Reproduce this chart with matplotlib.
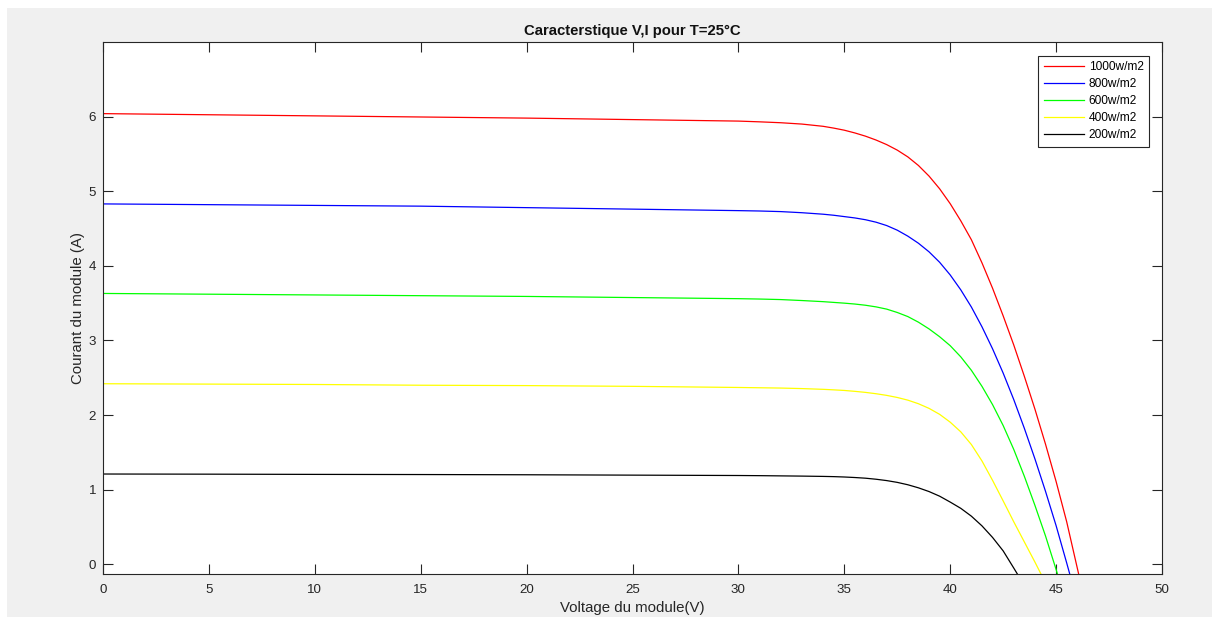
import matplotlib
matplotlib.use('Agg')
import matplotlib.pyplot as plt
from matplotlib.patches import Rectangle

plt.rcParams['font.family'] = ['Liberation Sans', 'DejaVu Sans']

# I(V) curves, one per irradiance
v_1000 = [0, 5, 10, 15, 20, 25, 30, 31, 32, 33, 34, 34.5, 35, 35.5, 36, 36.5, 37, 37.5, 38,
          38.5, 39, 39.5, 40, 40.5, 41, 41.5, 42, 42.5, 43, 43.5, 44, 44.5, 45, 45.5, 46, 46.3]
i_1000 = [6.04, 6.025, 6.01, 5.995, 5.98, 5.96, 5.94, 5.93, 5.918, 5.90, 5.87, 5.846, 5.818,
          5.781, 5.738, 5.686, 5.625, 5.551, 5.46, 5.345, 5.203, 5.033, 4.833, 4.603, 4.35,
          4.04, 3.70, 3.33, 2.94, 2.52, 2.08, 1.61, 1.11, 0.57, -0.05, -0.42]

v_800 = [0, 5, 10, 15, 20, 25, 30, 31, 32, 33, 34, 34.5, 35, 35.5, 36, 36.5, 37, 37.5, 38,
         38.5, 39, 39.5, 40, 40.5, 41, 41.5, 42, 42.5, 43, 43.5, 44, 44.5, 45, 45.5, 45.8]
i_800 = [4.83, 4.82, 4.81, 4.80, 4.78, 4.76, 4.74, 4.735, 4.727, 4.712, 4.692, 4.678, 4.66,
         4.642, 4.618, 4.585, 4.54, 4.478, 4.398, 4.303, 4.188, 4.048, 3.878, 3.678, 3.448,
         3.183, 2.888, 2.563, 2.208, 1.823, 1.413, 0.978, 0.518, 0.018, -0.29]

v_600 = [0, 5, 10, 15, 20, 25, 30, 31, 32, 33, 34, 34.5, 35, 35.5, 36, 36.5, 37, 37.5, 38,
         38.5, 39, 39.5, 40, 40.5, 41, 41.5, 42, 42.5, 43, 43.5, 44, 44.5, 45, 45.3]
i_600 = [3.63, 3.62, 3.61, 3.60, 3.59, 3.575, 3.56, 3.555, 3.548, 3.535, 3.52, 3.51, 3.50,
         3.488, 3.472, 3.45, 3.42, 3.375, 3.32, 3.245, 3.155, 3.05, 2.93, 2.78, 2.60, 2.385,
         2.14, 1.86, 1.54, 1.18, 0.79, 0.38, -0.07, -0.35]

v_400 = [0, 5, 10, 15, 20, 25, 30, 31, 32, 33, 34, 34.5, 35, 35.5, 36, 36.5, 37, 37.5, 38,
         38.5, 39, 39.5, 40, 40.5, 41, 41.5, 42, 42.5, 43, 43.5, 44, 44.5]
i_400 = [2.42, 2.415, 2.41, 2.40, 2.395, 2.385, 2.37, 2.366, 2.362, 2.355, 2.345, 2.338, 2.33,
         2.318, 2.304, 2.286, 2.264, 2.236, 2.20, 2.152, 2.09, 2.01, 1.905, 1.775, 1.605,
         1.385, 1.125, 0.85, 0.57, 0.30, 0.03, -0.25]

v_200 = [0, 5, 10, 15, 20, 25, 30, 31, 32, 33, 34, 34.5, 35, 35.5, 36, 36.5, 37, 37.5, 38,
         38.5, 39, 39.5, 40, 40.5, 41, 41.5, 42, 42.5, 43, 43.3]
i_200 = [1.21, 1.208, 1.205, 1.203, 1.20, 1.195, 1.19, 1.188, 1.185, 1.182, 1.178, 1.175,
         1.17, 1.163, 1.154, 1.14, 1.122, 1.098, 1.066, 1.025, 0.975, 0.913, 0.834, 0.75,
         0.645, 0.515, 0.36, 0.18, -0.05, -0.19]

labels = ['1000w/m2', '800w/m2', '600w/m2', '400w/m2', '200w/m2']
colors = ['#ff0000', '#0000ff', '#00ff00', '#ffff00', '#000000']

x_ticks = [0, 5, 10, 15, 20, 25, 30, 35, 40, 45, 50]
y_ticks = [0, 1, 2, 3, 4, 5, 6]

W, H = 1212, 617
fig = plt.figure(figsize=(W / 100, H / 100), dpi=100, facecolor='white')
# grey figure area with thin white border top/left
fig.patches.append(Rectangle((7 / W, 0), 1, (H - 8) / H, transform=fig.transFigure,
                             facecolor='#f0f0f0', edgecolor='none', zorder=-10))

ax = fig.add_axes([103 / W, 1 - 574 / H, (1162 - 103) / W, (574 - 42) / H])
ax.set_facecolor('white')

series = [(v_1000, i_1000), (v_800, i_800), (v_600, i_600), (v_400, i_400), (v_200, i_200)]
for (v, i), lab, col in zip(series, labels, colors):
    ax.plot(v, i, color=col, lw=0.9, label=lab)

ax.set_xlim(0, 50)
ax.set_ylim(-0.13, 7)
ax.set_xticks(x_ticks)
ax.set_yticks(y_ticks)

axc = '#262626'
for s in ax.spines.values():
    s.set_color(axc)
    s.set_linewidth(0.8)
ax.tick_params(direction='in', length=7.5, width=0.8, color=axc, labelcolor=axc,
               labelsize=9.6, top=True, right=True)
ax.tick_params(axis='x', pad=7)
ax.tick_params(axis='y', pad=5)

ax.set_xlabel('Voltage du module(V)', fontsize=10.8, color=axc, va='center')
ax.xaxis.set_label_coords(0.5, (574 - 608) / 532)
ax.set_ylabel('Courant du module (A)', fontsize=10.8, color=axc, va='center')
ax.yaxis.set_label_coords((78 - 103) / 1059, 0.5)

ax.set_title('Caracterstique V,I pour T=25°C', fontsize=10.7, fontweight='bold',
             color='#111111', y=(574 - 31) / 532, va='center', pad=0)

leg = ax.legend(loc='upper right', bbox_to_anchor=((1149 - 103) / 1059, (574 - 56) / 532),
                borderaxespad=0, fontsize=8.6, handlelength=3.4, handletextpad=0.35,
                labelspacing=0.42, borderpad=0.45, fancybox=False, framealpha=1,
                edgecolor=axc)
leg.get_frame().set_linewidth(0.8)

fig.savefig('out.png', dpi=100, facecolor=fig.get_facecolor())
